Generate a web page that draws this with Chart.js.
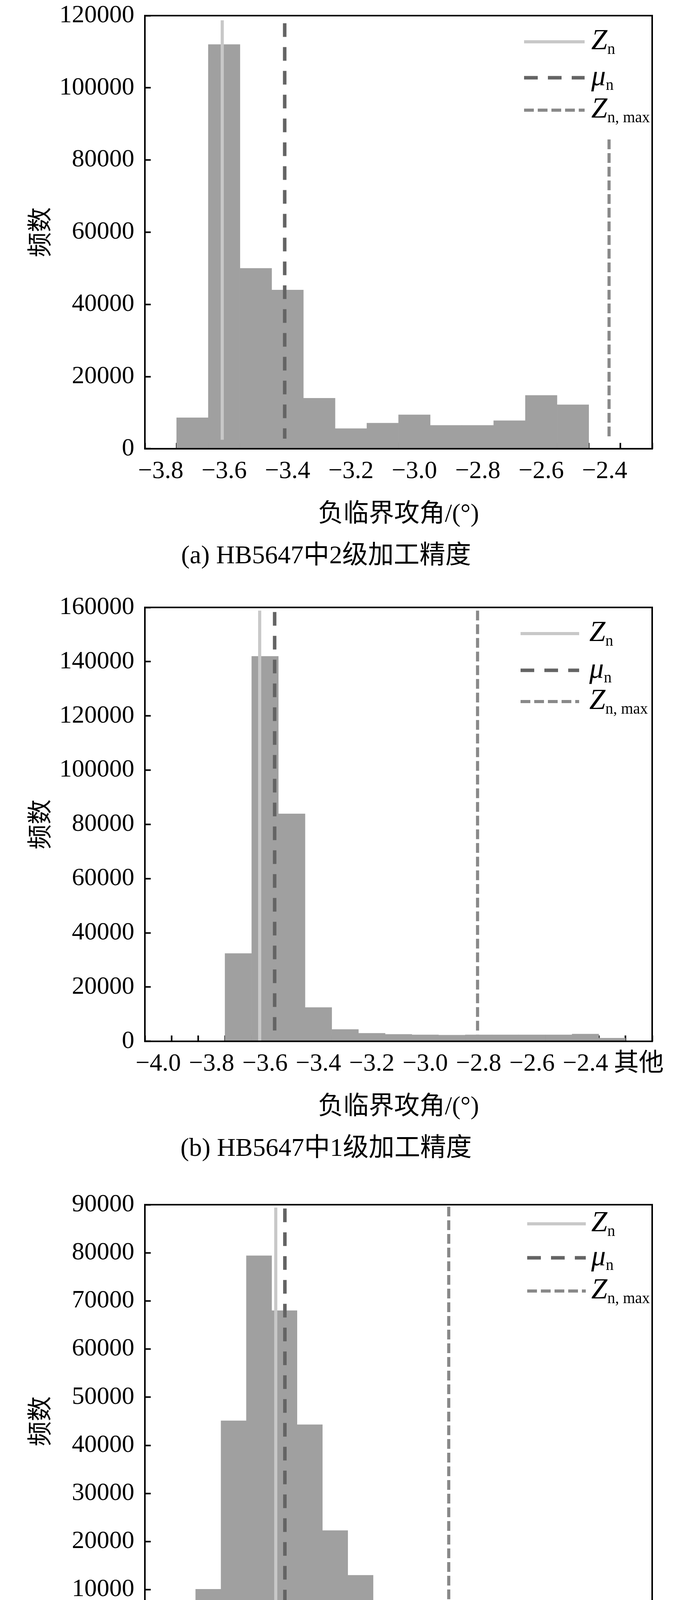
<!DOCTYPE html>
<html>
<head>
<meta charset="utf-8">
<script src="https://cdn.jsdelivr.net/npm/chart.js@4.4.1/dist/chart.umd.min.js"></script>
<style>
  body { margin: 0; background: #fff; width: 1772px; height: 4512px; position: relative; overflow: hidden; }
  canvas { position: absolute; left: 0; }
</style>
</head>
<body>
<canvas id="histA" width="1772" height="1500" style="top:0"></canvas>
<canvas id="histB" width="1772" height="1500" style="top:1500px"></canvas>
<canvas id="histC" width="1772" height="1512" style="top:3000px"></canvas>
<script>
// (a) HB5647中2级加工精度
const binsA = ['−3.8', '−3.7', '−3.6', '−3.5', '−3.4', '−3.3', '−3.2', '−3.1', '−3.0', '−2.9', '−2.8', '−2.7', '−2.6', '−2.5', '−2.4', '−2.3'];
const countsA = [0, 8600, 112000, 50000, 44000, 14000, 5600, 7100, 9400, 6500, 6500, 7800, 14800, 12200, 0, 0];
// reference lines Zn, μn, Zn,max : position in bin units (0 = first bin), top and bottom of the line
const linePosA = [1.94, 3.91, 14.14];
const lineTopA = [118700, 117900, 85700];
const lineBottomA = [2500, 2800, 2900];

// (b) HB5647中1级加工精度
const binsB = ['−4.0', '−3.9', '−3.8', '−3.7', '−3.6', '−3.5', '−3.4', '−3.3', '−3.2', '−3.1', '−3.0', '−2.9', '−2.8', '−2.7', '−2.6', '−2.5', '−2.4', '−2.3', '其他'];
const countsB = [0, 0, 0, 32400, 142000, 83900, 12500, 4400, 3000, 2600, 2400, 2300, 2400, 2400, 2400, 2400, 2700, 1200, 0];
const linePosB = [3.80, 4.36, 11.96];
const lineTopB = [158800, 158300, 158800];
const lineBottomB = [0, 4000, 2500];

// (c) 精密加工精度 (only every third bin is labelled)
const binsC = ['−3.82', '−3.77', '−3.72', '−3.68', '−3.64', '−3.60', '−3.55', '−3.47', '−3.38', '−3.30', '−3.20', '−3.10', '−3.00', '−2.90', '−2.80', '−2.70', '−2.60', '−2.50', '−2.40', '−2.30'];
const countsC = [0, 500, 10100, 45100, 79400, 68000, 44300, 22300, 13000, 2400, 2000, 1900, 2100, 2100, 1700, 1250, 860, 550, 400, 860];
const linePosC = [4.66, 5.02, 11.48];
const lineTopC = [89400, 89200, 89600];
const lineBottomC = [0, 500, 1800];

const lineNames = ['Z', 'μ', 'Z'];
const lineSubs = ['n', 'n', 'n, max'];
const lineColors = ['#c8c8c8', '#646464', '#898989'];
const lineDashes = [[], [35, 26], [25, 10]];

const serif = '"Liberation Serif", "Noto Sans CJK SC", serif';

// legend with subscripts, drawn from the line datasets
const subLegend = {
  id: 'subLegend',
  afterDraw(chart, args, opts) {
    const ctx = chart.ctx;
    ctx.save();
    let row = 0;
    chart.data.datasets.forEach(ds => {
      if (ds.type !== 'line') return;
      const y = opts.rows[row++];
      ctx.strokeStyle = ds.borderColor;
      ctx.lineWidth = ds.borderWidth;
      ctx.setLineDash(ds.borderDash);
      ctx.beginPath();
      ctx.moveTo(opts.x0, y);
      ctx.lineTo(opts.x1, y);
      ctx.stroke();
      ctx.fillStyle = '#000';
      ctx.textBaseline = 'alphabetic';
      ctx.font = 'italic 74px ' + serif;
      ctx.fillText(ds.label, opts.tx, y + 19);
      const w = ctx.measureText(ds.label).width;
      ctx.font = '40px ' + serif;
      ctx.fillText(ds.sub, opts.tx + w, y + 31);
    });
    ctx.restore();
  }
};

// black box round the plot area
const frame = {
  id: 'frame',
  afterDraw(chart) {
    const {ctx, chartArea: a} = chart;
    ctx.save();
    ctx.strokeStyle = '#000';
    ctx.lineWidth = 4;
    ctx.setLineDash([]);
    ctx.strokeRect(a.left, a.top, a.right - a.left, a.bottom - a.top);
    ctx.restore();
  }
};

function histogram(id, o) {
  const canvas = document.getElementById(id);
  const n = o.bins.length;
  const datasets = o.linePos.map((p, i) => ({
    type: 'line',
    label: lineNames[i],
    sub: lineSubs[i],
    xAxisID: 'xl',
    data: [{x: p, y: o.lineTop[i]}, {x: p, y: o.lineBottom[i]}],
    borderColor: lineColors[i],
    borderWidth: i === 1 ? 9 : 8,
    borderDash: lineDashes[i],
    borderCapStyle: 'butt',
    pointRadius: 0,
    fill: false,
    order: 0
  }));
  datasets.push({
    type: 'bar',
    data: o.counts,
    backgroundColor: '#a0a0a0',
    borderWidth: 0,
    grouped: false,
    barPercentage: 1,
    categoryPercentage: 1,
    order: 1
  });
  const H = canvas.height;
  return new Chart(canvas, {
    data: {labels: o.bins, datasets: datasets},
    options: {
      responsive: false,
      animation: false,
      devicePixelRatio: 1,
      datasets: {bar: {barPercentage: 1, categoryPercentage: 1, grouped: false}},
      layout: {padding: {top: o.top, right: 102, left: 0, bottom: 0}},
      plugins: {
        legend: {display: false},
        tooltip: {enabled: false},
        title: {
          display: true, position: 'bottom', text: o.caption, color: '#000',
          font: {family: serif, size: 66, weight: 'normal'},
          padding: {top: 0, bottom: H - o.bottom - 318}
        },
        subLegend: o.legend
      },
      scales: {
        x: {
          type: 'category', offset: true, z: 1,
          grid: {offset: true, drawOnChartArea: false, tickLength: -15, tickWidth: 4, tickColor: '#000'},
          border: {display: false},
          ticks: {
            autoSkip: false, maxRotation: 0, minRotation: 0, padding: 35, color: '#000',
            font: {family: serif, size: 64},
            callback: function (v, i) { return i % o.every === 0 ? this.getLabelForValue(v) : ''; }
          },
          title: {
            display: true, text: '负临界攻角/(°)', color: '#000',
            font: {family: serif, size: 65}, padding: {top: 0, bottom: 28}
          },
          afterFit: s => { s.height = 236; s.paddingLeft = 0; s.paddingRight = 0; }
        },
        xl: {type: 'linear', display: false, min: -0.5, max: n - 0.5},
        y: {
          min: 0, max: o.yMax, z: 1,
          grid: {drawOnChartArea: false, tickLength: -15, tickWidth: 4, tickColor: '#000'},
          border: {display: false},
          ticks: {
            stepSize: o.yStep, padding: 42, color: '#000',
            font: {family: serif, size: 64},
            callback: v => String(v)
          },
          title: {
            display: true, text: '频数', color: '#000',
            font: {family: serif, size: 64}, padding: {top: 69, bottom: 0}
          },
          afterFit: s => { s.width = 371; s.paddingTop = 0; s.paddingBottom = 0; }
        }
      }
    },
    plugins: [subLegend, frame]
  });
}

histogram('histA', {
  bins: binsA, counts: countsA, every: 2, yMax: 120000, yStep: 20000,
  linePos: linePosA, lineTop: lineTopA, lineBottom: lineBottomA,
  caption: '(a) HB5647中2级加工精度', top: 40, bottom: 1146,
  legend: {x0: 1342, x1: 1497, tx: 1514, rows: [107, 199, 282]}
});

histogram('histB', {
  bins: binsB, counts: countsB, every: 2, yMax: 160000, yStep: 20000,
  linePos: linePosB, lineTop: lineTopB, lineBottom: lineBottomB,
  caption: '(b) HB5647中1级加工精度', top: 55, bottom: 1163,
  legend: {x0: 1333, x1: 1483, tx: 1509, rows: [122, 216, 296]}
});

histogram('histC', {
  bins: binsC, counts: countsC, every: 3, yMax: 90000, yStep: 10000,
  linePos: linePosC, lineTop: lineTopC, lineBottom: lineBottomC,
  caption: '(c) 精密加工精度', top: 84, bottom: 1190,
  legend: {x0: 1350, x1: 1500, tx: 1514, rows: [133, 220, 305]}
});
</script>
</body>
</html>
